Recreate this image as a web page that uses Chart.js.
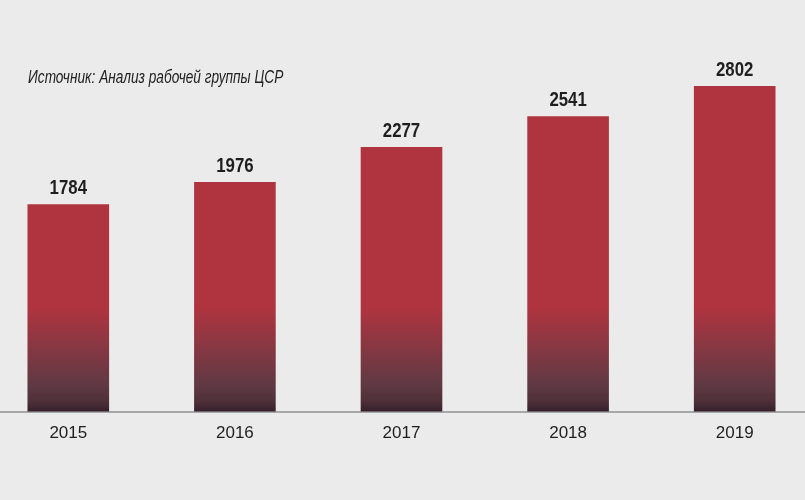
<!DOCTYPE html>
<html>
<head>
<meta charset="utf-8">
<script src="https://cdn.jsdelivr.net/npm/chart.js@4"></script>
<style>
  body { margin: 0; background: #ebebeb; overflow: hidden; }
  #wrap { position: absolute; left: -15px; top: 0; width: 833px; height: 500px; }
  #source {
    position: absolute; left: 28px; top: 66px;
    font: italic 19px "Liberation Sans", sans-serif;
    color: #222;
    white-space: nowrap;
    transform: scaleX(0.72);
    transform-origin: left top;
  }
</style>
</head>
<body>
<div id="wrap"><canvas id="chart"></canvas></div>
<div id="source">Источник: Анализ рабочей группы ЦСР</div>
<script>
const years = ['2015', '2016', '2017', '2018', '2019'];
const values = [1784, 1976, 2277, 2541, 2802];

const fontFamily = '"Liberation Sans", sans-serif';

// value labels above bars, squeezed a bit to look like a condensed face
const valueLabels = {
  id: 'valueLabels',
  afterDatasetsDraw(chart) {
    const c = chart.ctx;
    const meta = chart.getDatasetMeta(0);
    meta.data.forEach((bar, i) => {
      c.save();
      c.font = 'bold 21px ' + fontFamily;
      c.fillStyle = '#1e1e1e';
      c.textAlign = 'center';
      c.textBaseline = 'alphabetic';
      c.translate(bar.x, bar.y - 10);
      c.scale(0.8, 1);
      c.fillText(values[i], 0, 0);
      c.restore();
    });
  }
};

function barGradient(context) {
  const chart = context.chart;
  if (!chart.chartArea) return '#b0343f';
  const y0 = chart.scales.y.getPixelForValue(0);
  const y1 = chart.scales.y.getPixelForValue(900);
  const g = chart.ctx.createLinearGradient(0, y1, 0, y0);
  g.addColorStop(0, '#b0343f');
  g.addColorStop(0.35, '#8b3742');
  g.addColorStop(0.75, '#5f3944');
  g.addColorStop(0.9, '#4f3039');
  g.addColorStop(1, '#34202a');
  return g;
}

const data = {
  labels: years,
  datasets: [{
    data: values,
    backgroundColor: barGradient,
    borderWidth: 0,
    categoryPercentage: 1,
    barPercentage: 0.49,
    clip: false
  }]
};

const config = {
  type: 'bar',
  data: data,
  options: {
    responsive: true,
    maintainAspectRatio: false,
    animation: false,
    layout: {
      padding: { top: 50, bottom: 44, left: 0, right: 0 }
    },
    plugins: {
      legend: { display: false },
      tooltip: { enabled: false }
    },
    scales: {
      x: {
        grid: { display: false, drawTicks: false },
        border: { display: true, color: '#a8a8a8', width: 2 },
        ticks: {
          color: '#1e1e1e',
          padding: 12,
          font: { family: fontFamily, size: 17 }
        }
      },
      y: {
        display: false,
        min: 0,
        max: 3112
      }
    }
  },
  plugins: [valueLabels]
};

const barChart = new Chart(document.getElementById('chart'), config);
</script>
</body>
</html>
